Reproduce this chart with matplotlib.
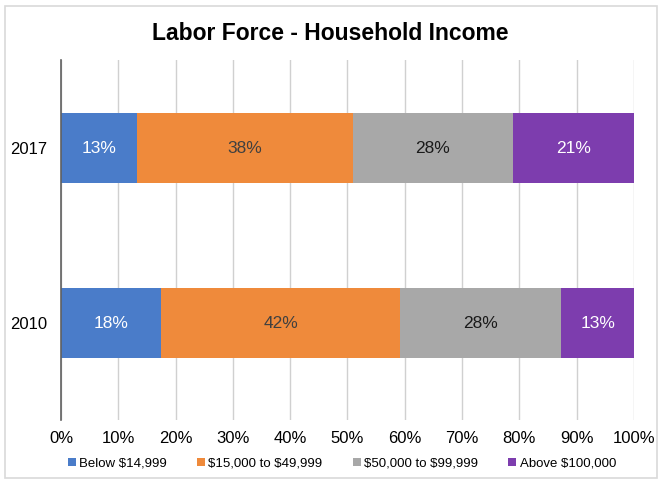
import matplotlib.pyplot as plt
from matplotlib.patches import Rectangle
import numpy as np

# data (shares of labor force by household income, %)
years = ['2010', '2017']
groups = ['Below \\$14,999', '\\$15,000 to \\$49,999', '\\$50,000 to \\$99,999', 'Above \\$100,000']
below_15k = [17.5, 13.2]
from_15k_to_50k = [41.7, 37.8]
from_50k_to_100k = [28.1, 27.8]
above_100k = [12.7, 21.2]

colors = ['#4A7CC9', '#EF8A3B', '#A8A8A8', '#7D3DAE']
text_colors = ['white', '#404040', '#1a1a1a', 'white']

plt.rcParams['font.family'] = ['Liberation Sans', 'DejaVu Sans']

fig = plt.figure(figsize=(6.6, 4.83), dpi=100)
ax = fig.add_axes([0.0924, 0.1304, 0.8682, 0.7454])

series = np.array([below_15k, from_15k_to_50k, from_50k_to_100k, above_100k])
totals = series.sum(axis=0)
shares = series / totals * 100

y = np.arange(len(years))
left = np.zeros(len(years))
for i, name in enumerate(groups):
    ax.barh(y, shares[i], left=left, height=0.405, color=colors[i], label=name, zorder=2)
    for j in range(len(years)):
        ax.text(left[j] + shares[i][j] / 2, y[j], f'{round(series[i][j]):.0f}%',
                ha='center', va='center', color=text_colors[i], fontsize=12.5, zorder=3)
    left += shares[i]

ax.set_xlim(0, 100)
ax.set_ylim(-0.554, 1.503)
ax.set_xticks(np.arange(0, 101, 10))
ax.set_xticklabels([f'{v}%' for v in range(0, 101, 10)], fontsize=12)
ax.set_yticks(y)
ax.set_yticklabels(years, fontsize=12)
ax.tick_params(length=0, pad=10)
ax.tick_params(axis='x', pad=8)
ax.grid(axis='x', color='#D0D0D0', linewidth=1, zorder=0)
for s in ['top', 'right', 'bottom']:
    ax.spines[s].set_visible(False)
ax.spines['left'].set_color('#606060')
ax.spines['left'].set_linewidth(1.2)
ax.spines['left'].set_zorder(4)

fig.text(0.5, 0.93, 'Labor Force - Household Income', ha='center', va='center',
         fontsize=16.5, fontweight='bold')

fig.legend(loc='center', bbox_to_anchor=(0.518, 0.04), ncol=4, frameon=False,
           fontsize=9.5, handlelength=0.6, handleheight=0.6, handletextpad=0.25,
           columnspacing=2.3)

# outer frame
fig.patches.append(Rectangle((0.008, 0.01), 0.987, 0.978, transform=fig.transFigure,
                             fill=False, edgecolor='#D9D9D9', linewidth=1.2))

fig.savefig('out.png', dpi=100)
